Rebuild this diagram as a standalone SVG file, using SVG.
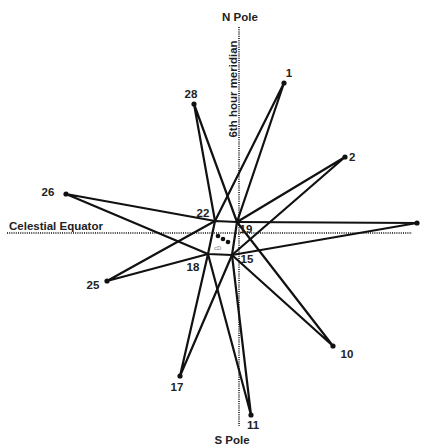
<svg xmlns="http://www.w3.org/2000/svg" width="427" height="445" viewBox="0 0 427 445">
<style>
text{font-family:"Liberation Sans",Arial,sans-serif;font-weight:bold;font-size:11.5px;fill:#222}
.axis{stroke:#444;stroke-width:2;stroke-dasharray:1 1.2;fill:none}
.edge{stroke:#111;stroke-width:2.2;fill:none;stroke-linejoin:round}
.dot{fill:#111}
.mid{text-anchor:middle}
</style>
<rect width="427" height="445" fill="#fff"/>
<g id="axes">
<line class="axis" x1="239" y1="27" x2="239" y2="426"/>
<line class="axis" x1="7" y1="233" x2="412" y2="233"/>
<text class="mid" x="240" y="21">N Pole</text>
<text class="mid" x="232" y="444">S Pole</text>
<text x="9" y="230">Celestial Equator</text>
<text class="mid" transform="translate(237,89) rotate(-90)">6th hour meridian</text>
</g>
<g id="connectors">
<polyline class="edge" points="215,221 284,83 237,222"/>
<polyline class="edge" points="215,221 194,104 237,222"/>
<polyline class="edge" points="237,222 345,157 232,255"/>
<polyline class="edge" points="237,222 417,223 232,255"/>
<polyline class="edge" points="237,222 333,346 232,255"/>
<polyline class="edge" points="232,255 251,415 208,254"/>
<polyline class="edge" points="232,255 180,376 208,254"/>
<polyline class="edge" points="208,254 107,281 215,221"/>
<polyline class="edge" points="208,254 66,194 215,221"/>
<polygon class="edge" points="215,221 237,222 232,255 208,254"/>
</g>
<g id="n1"><circle class="dot" cx="284" cy="83" r="2.6"/><text class="mid" x="289" y="77">1</text></g>
<g id="n28"><circle class="dot" cx="194" cy="104" r="2.6"/><text class="mid" x="191" y="98">28</text></g>
<g id="n2"><circle class="dot" cx="345" cy="157" r="2.6"/><text x="349" y="161">2</text></g>
<g id="n26"><circle class="dot" cx="66" cy="194" r="2.6"/><text class="mid" x="48" y="196">26</text></g>
<g id="nE"><circle class="dot" cx="417" cy="223" r="2.6"/></g>
<g id="n22"><text class="mid" x="203" y="217">22</text></g>
<g id="n19"><text class="mid" x="246" y="233">19</text></g>
<g id="n18"><text class="mid" x="193" y="271">18</text></g>
<g id="n15"><text class="mid" x="247" y="263">15</text></g>
<g id="n25"><circle class="dot" cx="107" cy="281" r="2.6"/><text class="mid" x="93" y="289">25</text></g>
<g id="n10"><circle class="dot" cx="333" cy="346" r="2.6"/><text class="mid" x="347" y="358">10</text></g>
<g id="n17"><circle class="dot" cx="180" cy="376" r="2.6"/><text class="mid" x="177" y="391">17</text></g>
<g id="n11"><circle class="dot" cx="251" cy="415" r="2.6"/><text class="mid" x="253" y="429">11</text></g>
<g id="center">
<circle class="dot" cx="218" cy="236" r="2.3"/>
<circle class="dot" cx="223" cy="239" r="2.3"/>
<circle class="dot" cx="228" cy="242" r="2.3"/>
<text x="214" y="250" style="font-size:6px;font-weight:normal;fill:#777">cD</text>
</g>
</svg>
